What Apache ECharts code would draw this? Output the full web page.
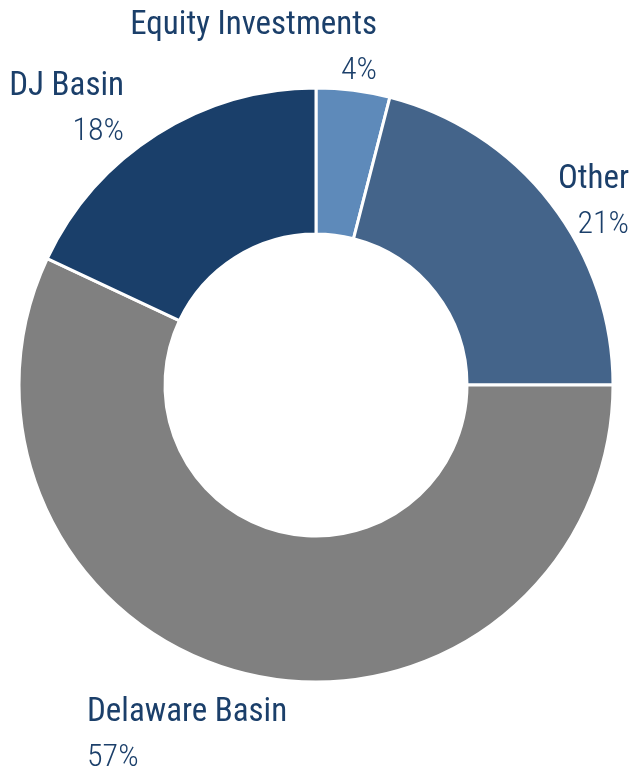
<!DOCTYPE html>
<html><head><meta charset="utf-8">
<script src="https://cdn.jsdelivr.net/npm/echarts@6/dist/echarts.min.js"></script>
<style>html,body{margin:0;padding:0;background:#fff}#c{width:633px;height:772px}</style>
</head><body><div id="c"></div>
<script>
const categories = ['Equity Investments', 'Other', 'Delaware Basin', 'DJ Basin'];
const values = [4, 21, 57, 18];
const colors = ['#5e8aba', '#44648a', '#808080', '#1a3f6a'];
// label anchor per slice: [x, y, align]
const labelAnchors = [[377, 3, 'right'], [629, 157, 'right'], [87, 690, 'left'], [124, 64, 'right']];

const chart = echarts.init(document.getElementById('c'), null, {renderer: 'canvas'});
chart.setOption({
  animation: false,
  series: [{
    type: 'pie',
    center: [316, 385],
    radius: [151, 297],
    startAngle: 90,
    clockwise: true,
    avoidLabelOverlap: false,
    data: categories.map((c, i) => ({name: c, value: values[i], itemStyle: {color: colors[i]}})),
    itemStyle: {borderColor: '#fff', borderWidth: 3},
    label: {
      show: true,
      position: 'outside',
      formatter: '{n|{b}}\n{p|{d}%}',
      rich: {
        n: {fontFamily: '"Roboto Condensed", Roboto, sans-serif', fontSize: 33, fontWeight: 400, color: '#1b3f6a', lineHeight: 45},
        p: {fontFamily: '"Roboto Condensed", Roboto, sans-serif', fontSize: 32, fontWeight: 300, color: '#1b3f6a', lineHeight: 45}
      }
    },
    labelLine: {show: false},
    labelLayout: function (p) {
      const a = labelAnchors[p.dataIndex];
      return {x: a[0], y: a[1], align: a[2], verticalAlign: 'top'};
    }
  }]
});
</script></body></html>
